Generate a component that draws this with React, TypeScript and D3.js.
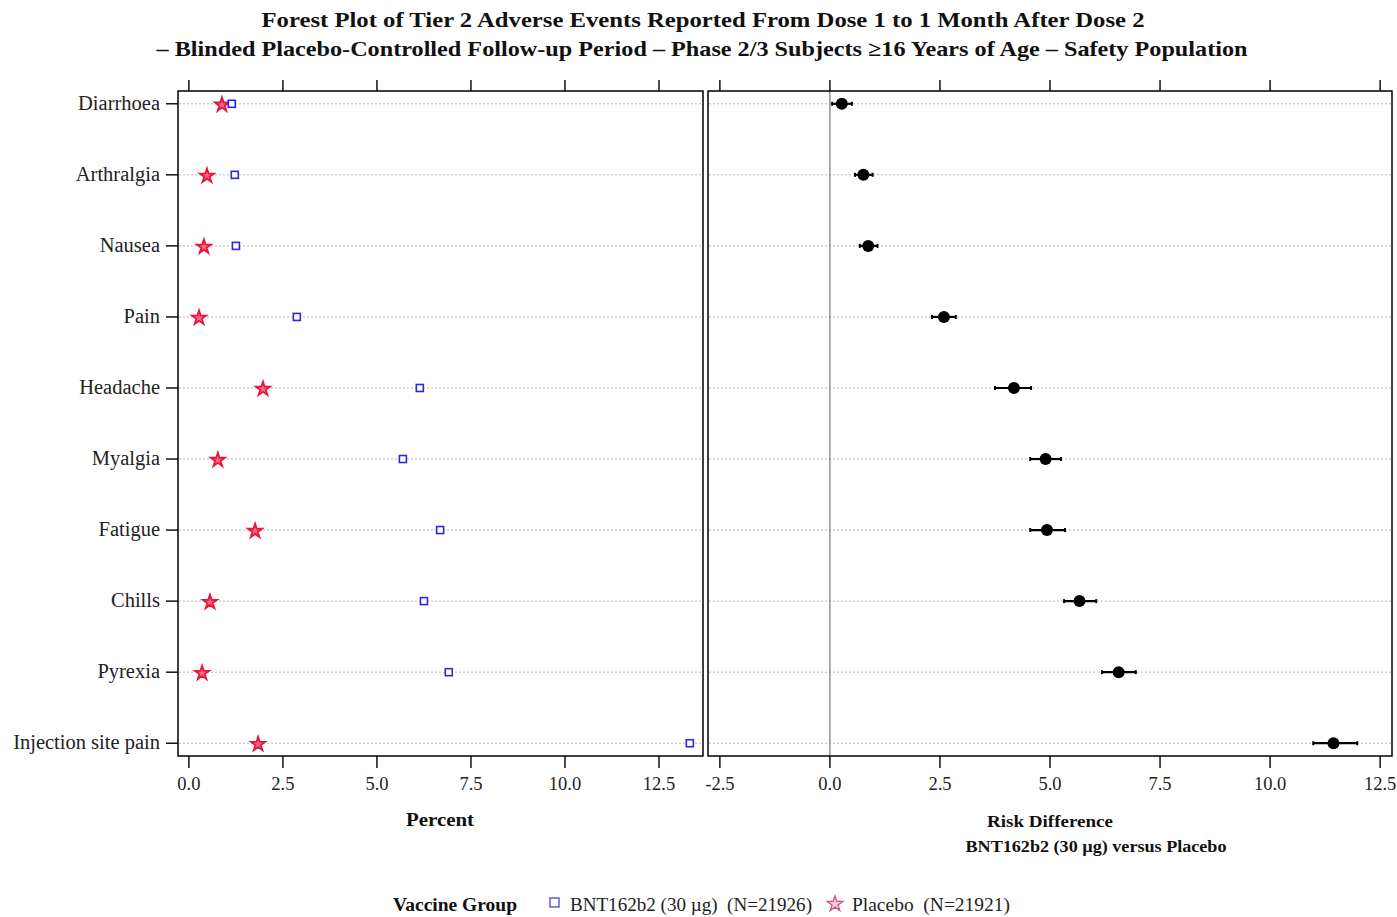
import React, { useEffect } from 'react';
import * as d3 from 'd3';

// adverse events, top to bottom
const categories = [
  'Diarrhoea', 'Arthralgia', 'Nausea', 'Pain', 'Headache',
  'Myalgia', 'Fatigue', 'Chills', 'Pyrexia', 'Injection site pain',
];
// percent of subjects
const bntPct = [1.14, 1.22, 1.25, 2.87, 6.14, 5.69, 6.68, 6.25, 6.91, 13.32];
const placeboPct = [0.88, 0.48, 0.40, 0.27, 1.97, 0.77, 1.76, 0.56, 0.35, 1.84];
// risk difference with 95% CI
const riskDiff = [0.27, 0.76, 0.87, 2.59, 4.18, 4.9, 4.93, 5.67, 6.56, 11.44];
const ciLower = [0.05, 0.57, 0.68, 2.32, 3.75, 4.55, 4.55, 5.32, 6.18, 10.98];
const ciUpper = [0.5, 0.97, 1.08, 2.86, 4.57, 5.25, 5.34, 6.05, 6.95, 11.98];

const pctTicks = [0, 2.5, 5, 7.5, 10, 12.5];
const rdTicks = [-2.5, 0, 2.5, 5, 7.5, 10, 12.5];

const serif = '"Liberation Serif", "Times New Roman", serif';
const RED = '#e8173a';
const BLUE = '#2a2ad8';

const App = () => {
  useEffect(() => {
    document.body.style.margin = '0';
  }, []);

  const top = 91;
  const bottom = 756;

  const xPct = d3.scaleLinear().domain([-0.29, 13.67]).range([178, 703]);
  const xRd = d3.scaleLinear().domain([-2.77, 12.77]).range([708, 1392]);
  const y = d3.scalePoint<string>().domain(categories).range([top, bottom]).padding(0.18);

  const star = d3.symbol().type(d3.symbolStar).size(62)() as string;
  const starLegend = d3.symbol().type(d3.symbolStar).size(75)() as string;

  // SAS style: plain hyphen for negatives
  const fmt = (v: number) => d3.format('.1f')(v).replace('−', '-');

  const axisTicks = (scale: d3.ScaleLinear<number, number>, ticks: number[], key: string) => (
    <g key={key}>
      {ticks.map((t) => (
        <g key={t}>
          <line x1={scale(t)} x2={scale(t)} y1={top - 11} y2={top} stroke="#000" strokeWidth={1.4} />
          <line x1={scale(t)} x2={scale(t)} y1={bottom} y2={bottom + 12} stroke="#000" strokeWidth={1.4} />
          <text x={scale(t)} y={790} textAnchor="middle" fontFamily={serif} fontSize={18.5} fill="#222">
            {fmt(t)}
          </text>
        </g>
      ))}
    </g>
  );

  return (
    <svg width={1397} height={917} style={{ display: 'block', background: '#fff' }}>
      {/* title */}
      <text x={703} y={27} textAnchor="middle" fontFamily={serif} fontWeight="bold" fontSize={21}
        textLength={883} lengthAdjust="spacingAndGlyphs" fill="#111">
        Forest Plot of Tier 2 Adverse Events Reported From Dose 1 to 1 Month After Dose 2
      </text>
      <text x={702} y={56} textAnchor="middle" fontFamily={serif} fontWeight="bold" fontSize={21}
        textLength={1091} lengthAdjust="spacingAndGlyphs" fill="#111">
        – Blinded Placebo-Controlled Follow-up Period – Phase 2/3 Subjects ≥16 Years of Age – Safety Population
      </text>

      {/* grid lines */}
      {categories.map((c) => (
        <g key={c}>
          <line x1={179} x2={702} y1={y(c)} y2={y(c)} stroke="#b8b8b8" strokeWidth={1} strokeDasharray="2,2" />
          <line x1={709} x2={1391} y1={y(c)} y2={y(c)} stroke="#b8b8b8" strokeWidth={1} strokeDasharray="2,2" />
        </g>
      ))}

      {/* reference line at zero */}
      <line x1={xRd(0)} x2={xRd(0)} y1={top} y2={bottom} stroke="#777" strokeWidth={1.2} />

      {/* frames */}
      <rect x={178} y={top} width={703 - 178} height={bottom - top} fill="none" stroke="#000" strokeWidth={1.5} />
      <rect x={708} y={top} width={1392 - 708} height={bottom - top} fill="none" stroke="#000" strokeWidth={1.5} />

      {axisTicks(xPct, pctTicks, 'pct')}
      {axisTicks(xRd, rdTicks, 'rd')}

      {/* y axis */}
      {categories.map((c) => (
        <g key={c}>
          <line x1={166} x2={178} y1={y(c)} y2={y(c)} stroke="#000" strokeWidth={1.4} />
          <text x={160} y={(y(c) as number) + 6} textAnchor="end" fontFamily={serif} fontSize={20.5} fill="#222">
            {c}
          </text>
        </g>
      ))}

      {/* percent markers */}
      {categories.map((c, i) => (
        <g key={c}>
          <path d={star} transform={`translate(${xPct(placeboPct[i])},${(y(c) as number) + 1})`}
            fill="#f46a86" stroke={RED} strokeWidth={1.8} />
          <rect x={xPct(bntPct[i]) - 3.5} y={(y(c) as number) - 3.5} width={7} height={7}
            fill="#fff" stroke={BLUE} strokeWidth={1.6} />
        </g>
      ))}

      {/* risk difference */}
      {categories.map((c, i) => {
        const yy = y(c) as number;
        return (
          <g key={c}>
            <line x1={xRd(ciLower[i])} x2={xRd(ciUpper[i])} y1={yy} y2={yy} stroke="#000" strokeWidth={2.2} />
            <line x1={xRd(ciLower[i])} x2={xRd(ciLower[i])} y1={yy - 2} y2={yy + 2} stroke="#000" strokeWidth={2} />
            <line x1={xRd(ciUpper[i])} x2={xRd(ciUpper[i])} y1={yy - 2} y2={yy + 2} stroke="#000" strokeWidth={2} />
            <circle cx={xRd(riskDiff[i])} cy={yy} r={6} fill="#000" />
          </g>
        );
      })}

      {/* axis labels */}
      <text x={440} y={826} textAnchor="middle" fontFamily={serif} fontWeight="bold" fontSize={18}
        textLength={68} lengthAdjust="spacingAndGlyphs" fill="#111">
        Percent
      </text>
      <text x={1050} y={827} textAnchor="middle" fontFamily={serif} fontWeight="bold" fontSize={16}
        textLength={126} lengthAdjust="spacingAndGlyphs" fill="#111">
        Risk Difference
      </text>
      <text x={1096} y={852} textAnchor="middle" fontFamily={serif} fontWeight="bold" fontSize={16}
        textLength={261} lengthAdjust="spacingAndGlyphs" fill="#111">
        BNT162b2 (30 µg) versus Placebo
      </text>

      {/* legend */}
      <text x={393} y={911} fontFamily={serif} fontWeight="bold" fontSize={18.5}
        textLength={124} lengthAdjust="spacingAndGlyphs" fill="#111">
        Vaccine Group
      </text>
      <rect x={550} y={898} width={9} height={9} fill="#fff" stroke="#4848c8" strokeWidth={1.3} />
      <text x={570} y={911} fontFamily={serif} fontSize={18.5} fill="#222" xmlSpace="preserve"
        textLength={242} lengthAdjust="spacingAndGlyphs">
        BNT162b2 (30 µg)  (N=21926)
      </text>
      <path d={starLegend} transform={`translate(835,904)`} fill="#fbd0dc" stroke="#d0507a" strokeWidth={1.3} />
      <text x={852} y={911} fontFamily={serif} fontSize={18.5} fill="#222" xmlSpace="preserve"
        textLength={158} lengthAdjust="spacingAndGlyphs">
        Placebo  (N=21921)
      </text>
    </svg>
  );
};

export default App;
